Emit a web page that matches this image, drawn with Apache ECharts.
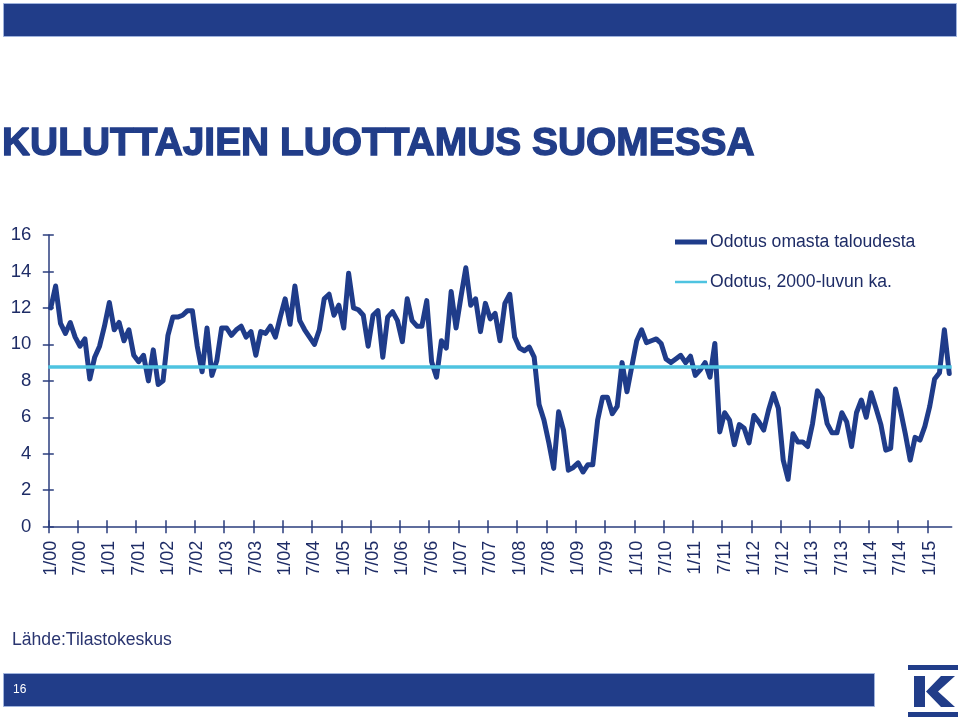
<!DOCTYPE html>
<html>
<head>
<meta charset="utf-8">
<script src="https://cdn.jsdelivr.net/npm/echarts@6/dist/echarts.min.js"></script>
<style>
html,body{margin:0;padding:0;background:#fff;}
#chart{width:960px;height:722px;}
</style>
</head>
<body>
<div id="chart"></div>
<script>
// Monthly values, "Odotus omasta taloudesta", 1/2000 ... 5/2015
const y2000 = [12.0, 13.2, 11.15, 10.6, 11.2, 10.4, 9.9, 10.3, 8.1, 9.3, 9.9, 11.0];
const y2001 = [12.3, 10.8, 11.2, 10.2, 10.8, 9.4, 9.05, 9.4, 8.0, 9.7, 7.8, 8.0];
const y2002 = [10.5, 11.5, 11.5, 11.6, 11.85, 11.85, 9.9, 8.5, 10.9, 8.3, 9.1, 10.9];
const y2003 = [10.9, 10.5, 10.8, 11.0, 10.4, 10.7, 9.4, 10.7, 10.6, 11.0, 10.4, 11.5];
const y2004 = [12.5, 11.1, 13.2, 11.3, 10.8, 10.4, 10.0, 10.8, 12.5, 12.75, 11.6, 12.15];
const y2005 = [10.9, 13.9, 12.0, 11.9, 11.6, 9.9, 11.6, 11.85, 9.3, 11.5, 11.8, 11.3];
const y2006 = [10.15, 12.5, 11.3, 11.0, 11.0, 12.4, 9.05, 8.2, 10.2, 9.8, 12.9, 10.9];
const y2007 = [12.6, 14.2, 12.15, 12.5, 10.7, 12.25, 11.4, 11.7, 10.2, 12.25, 12.75, 10.4];
const y2008 = [9.8, 9.65, 9.85, 9.3, 6.7, 5.85, 4.6, 3.2, 6.3, 5.3, 3.1, 3.25];
const y2009 = [3.5, 3.0, 3.4, 3.4, 5.85, 7.1, 7.1, 6.2, 6.6, 9.0, 7.4, 8.8];
const y2010 = [10.2, 10.8, 10.1, 10.2, 10.3, 10.05, 9.2, 9.0, 9.2, 9.4, 9.0, 9.35];
const y2011 = [8.3, 8.6, 9.0, 8.2, 10.05, 5.2, 6.25, 5.85, 4.5, 5.6, 5.4, 4.6];
const y2012 = [6.1, 5.75, 5.3, 6.4, 7.3, 6.5, 3.65, 2.6, 5.1, 4.65, 4.65, 4.4];
const y2013 = [5.65, 7.45, 7.05, 5.65, 5.15, 5.15, 6.25, 5.75, 4.4, 6.25, 6.95, 6.0];
const y2014 = [7.35, 6.5, 5.6, 4.2, 4.3, 7.55, 6.4, 5.1, 3.65, 4.9, 4.75, 5.5];
const y2015 = [6.6, 8.1, 8.45, 10.8, 8.4];

const avgLevel = 8.8; // Odotus, 2000-luvun ka.
const yTicks = [0, 2, 4, 6, 8, 10, 12, 14, 16];
const seriesNames = ['Odotus omasta taloudesta', 'Odotus, 2000-luvun ka.'];
const titleText = 'KULUTTAJIEN LUOTTAMUS SUOMESSA';

const values = [].concat(y2000, y2001, y2002, y2003, y2004, y2005, y2006, y2007,
  y2008, y2009, y2010, y2011, y2012, y2013, y2014, y2015);
const categories = values.map((v, i) => (i % 12 + 1) + '/' + String(Math.floor(i / 12)).padStart(2, '0'));
// tick marks sit on the month boundaries every half year (1/00, 7/00, ...)
const tickBoundaries = categories.map((c, i) => i).filter(i => i % 6 === 0);

const NAVY = '#213D89';
const LINE = '#1F3C8A';
const LIGHT = '#4EC3E0';
const TXT = '#1E2C66';
const AX = '#2B3E7E';
const FONT = '"Liberation Sans", Arial, sans-serif';

const tickAxis = (inside) => ({
  type: 'value', min: 0, max: categories.length, position: 'bottom',
  axisLine: {show: false},
  axisTick: {show: true, customValues: tickBoundaries, length: 6.5, inside: inside,
    lineStyle: {color: AX, width: 1.5}},
  axisLabel: {show: false}, splitLine: {show: false}
});

const chart = echarts.init(document.getElementById('chart'), null, {renderer: 'canvas'});
chart.setOption({
  animation: false,
  backgroundColor: '#fff',
  legend: [{
    data: [{name: seriesNames[0], icon: 'rect'}],
    left: 675, top: 233, padding: 0, itemWidth: 32, itemHeight: 5, itemGap: 0,
    textStyle: {fontFamily: FONT, fontSize: 17.6, color: TXT, padding: [0, 0, 0, -2]}
  }, {
    data: [{name: seriesNames[1], icon: 'rect'}],
    left: 675, top: 273, padding: 0, itemWidth: 32, itemHeight: 2.5, itemGap: 0,
    textStyle: {fontFamily: FONT, fontSize: 17.6, color: TXT, padding: [0, 0, 0, -2]}
  }],
  grid: {left: 48.3, top: 235, width: 903.4, height: 291.7, containLabel: false},
  xAxis: [{
    type: 'category', data: categories, boundaryGap: true, position: 'bottom',
    axisLine: {lineStyle: {color: AX, width: 1.5}},
    axisTick: {show: false},
    axisLabel: {interval: 5, rotate: 90, margin: 14, fontFamily: FONT, fontSize: 18, color: TXT},
    splitLine: {show: false}
  }, tickAxis(false), tickAxis(true)],
  yAxis: [{
    type: 'value', min: 0, max: 16, interval: 2, position: 'left',
    axisLine: {show: true, lineStyle: {color: AX, width: 1.5}},
    axisTick: {show: true, length: 5.5, inside: false, lineStyle: {color: AX, width: 1.5}},
    axisLabel: {margin: 17, fontFamily: FONT, fontSize: 18.5, color: TXT,
      formatter: v => yTicks.indexOf(v) >= 0 ? String(v) : ''},
    splitLine: {show: false}
  }, {
    type: 'value', min: 0, max: 16, interval: 2, position: 'left',
    axisLine: {show: false},
    axisTick: {show: true, length: 5.5, inside: true, lineStyle: {color: AX, width: 1.5}},
    axisLabel: {show: false}, splitLine: {show: false}
  }],
  series: [{
    name: seriesNames[0], type: 'line', data: values, xAxisIndex: 0, yAxisIndex: 0,
    showSymbol: false, symbol: 'none', smooth: false,
    color: LINE,
    lineStyle: {color: LINE, width: 5, join: 'round', cap: 'round'},
    z: 3
  }, {
    name: seriesNames[1], type: 'line', data: [], xAxisIndex: 0, yAxisIndex: 0,
    showSymbol: false, symbol: 'none', color: LIGHT,
    lineStyle: {color: LIGHT, width: 3.5},
    markLine: {
      silent: true, symbol: ['none', 'none'], label: {show: false},
      lineStyle: {color: LIGHT, width: 3.5, type: 'solid'},
      data: [{yAxis: avgLevel}]
    },
    z: 4
  }],
  graphic: [
    {type: 'text', x: 2, y: 144,
      style: {text: titleText, fill: NAVY, stroke: NAVY, lineWidth: 1.3,
        font: 'bold 38.9px ' + FONT, verticalAlign: 'middle', align: 'left'}},
    {type: 'rect', shape: {x: 3.5, y: 3.5, width: 953, height: 33},
      style: {fill: NAVY, stroke: '#9FB3DD', lineWidth: 1}},
    {type: 'text', x: 12, y: 640,
      style: {text: 'Lähde:Tilastokeskus', fill: '#2A3570', font: '17.6px ' + FONT, verticalAlign: 'middle'}},
    {type: 'rect', shape: {x: 3.5, y: 673.5, width: 871, height: 33},
      style: {fill: NAVY, stroke: '#9FB3DD', lineWidth: 1}},
    {type: 'text', x: 13, y: 690,
      style: {text: '16', fill: '#ffffff', font: '12px ' + FONT, verticalAlign: 'middle'}},
    {type: 'rect', shape: {x: 908, y: 665, width: 50, height: 5}, style: {fill: NAVY}},
    {type: 'rect', shape: {x: 908, y: 712, width: 50, height: 5}, style: {fill: NAVY}},
    {type: 'rect', shape: {x: 914, y: 676, width: 11, height: 31}, style: {fill: NAVY}},
    {type: 'polygon', shape: {points: [[941, 676], [955, 676], [938, 691.5], [955, 707], [941, 707], [926, 691.5]]},
      style: {fill: NAVY}}
  ]
});
</script>
</body>
</html>
